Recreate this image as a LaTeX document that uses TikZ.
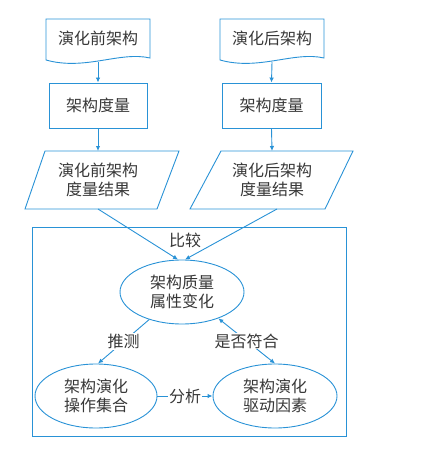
\documentclass[tikz,border=0pt]{standalone}
\usepackage{fontspec}
\setmainfont{Noto Sans CJK SC}
\usetikzlibrary{arrows.meta,shapes.geometric}
\definecolor{lb}{RGB}{41,146,214}
\definecolor{tx}{RGB}{55,55,55}
\begin{document}
\begin{tikzpicture}[x=1pt,y=-1pt,
  every node/.style={text=tx,font=\fontsize{16}{19}\selectfont},
  ln/.style={draw=lb,line width=0.9pt},
  arr/.style={ln,-{Latex[length=5pt,width=4.5pt]}},
  darr/.style={ln,{Latex[length=5pt,width=4.5pt]}-{Latex[length=5pt,width=4.5pt]}},
  boxn/.style={ln,minimum width=98pt,minimum height=45pt,inner sep=0pt},
  elln/.style={ln,ellipse,minimum width=124pt,minimum height=64pt,inner sep=0pt,align=center},
  lab/.style={fill=white,inner sep=1pt}]
\useasboundingbox (0,0) rectangle (425,476);
% big frame
\draw[ln] (32,227) rectangle (346,436);
% documents
\draw[ln] (46,19) -- (150,19) -- (150,58) .. controls (120,51) and (85,71) .. (46,60) -- cycle;
\draw[ln] (220,19) -- (324,19) -- (324,58) .. controls (294,51) and (259,71) .. (220,60) -- cycle;
\node (doc1) at (98,38) {演化前架构};
\node (doc2) at (272,38) {演化后架构};
\coordinate (doc1b) at (98,62);
\coordinate (doc2b) at (272,62);
% measure boxes
\node[boxn] (m1) at (98,105.5) {架构度量};
\node[boxn,minimum width=99pt] (m2) at (271.5,105.5) {架构度量};
% parallelograms
\draw[ln] (45,151) -- (179,151) -- (157,209) -- (25,209) -- cycle;
\draw[ln] (221,151) -- (353,151) -- (325,209) -- (190,209) -- cycle;
\node[align=center] (p1) at (98,180) {演化前架构\\度量结果};
\node[align=center] (p2) at (272,180) {演化后架构\\度量结果};
\coordinate (p1t) at (98,151);
\coordinate (p2t) at (272,151);
\coordinate (p1b) at (98,209);
\coordinate (p2b) at (277,209);
% ellipses
\node[elln] (q) at (182,292) {架构质量\\属性变化};
\node[elln,minimum width=122pt] (l) at (96,396) {架构演化\\操作集合};
\node[elln] (r) at (275,396) {架构演化\\驱动因素};
% connectors
\draw[arr] (doc1b) -- (m1.north);
\draw[arr] (doc2b) -- (m2.north);
\draw[arr] (m1.south) -- (p1t);
\draw[arr] (m2.south) -- (p2t);
\draw[arr] (p1b) -- ([xshift=-4pt]q.north);
\draw[arr] (p2b) -- ([xshift=3pt]q.north);
\node (cmp) at (185,240) {比较};
\draw[arr] (q.220) -- node[lab] {推测} ([xshift=2pt]l.north);
\draw[darr] (q.-36) -- node[lab] {是否符合} (r.north);
\draw[arr] (l.east) -- node[lab] {分析} (r.west);
\end{tikzpicture}
\end{document}
